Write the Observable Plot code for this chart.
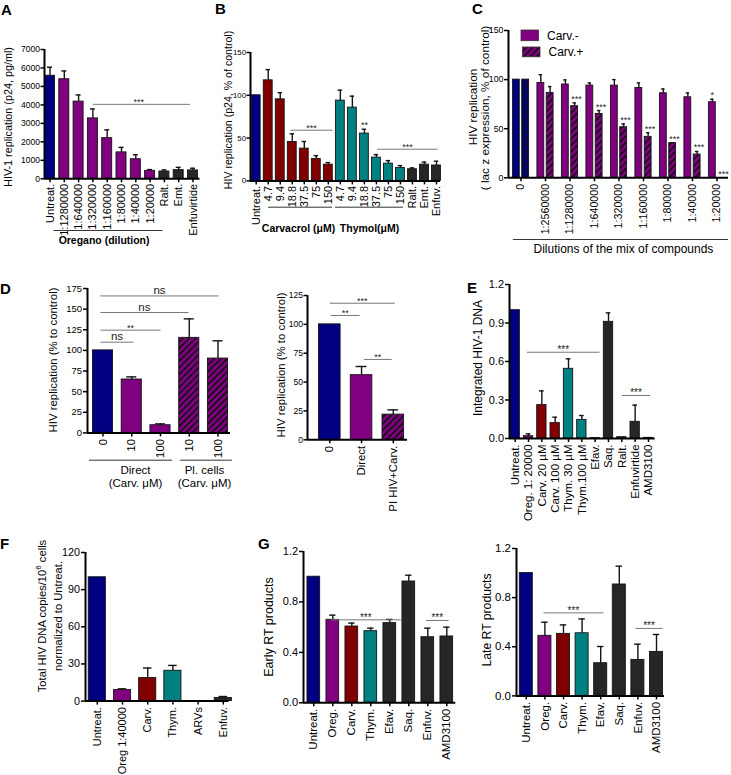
<!DOCTYPE html>
<html>
<head>
<meta charset="utf-8">
<script src="https://cdn.jsdelivr.net/npm/d3@7"></script>
<script src="https://cdn.jsdelivr.net/npm/@observablehq/plot@0.6"></script>
<style>
  body { margin: 0; background: #fff; }
  #fig { position: relative; width: 731px; height: 775px; overflow: hidden; background: #fff;
         font-family: "Liberation Sans", Arial, sans-serif; }
</style>
</head>
<body>
<div id="fig"></div>
<script>
// ---------------- DATA ----------------
// Panel A: oregano dilutions, p24 pg/ml
const aLabels = ["Untreat.","1:1280000","1:640000","1:320000","1:160000","1:80000","1:40000","1:20000","Ralt.","Emt.","Enfuvirtide"];
const aGroups = ["untreated","oregano","oregano","oregano","oregano","oregano","oregano","oregano","arv","arv","arv"];
const aValues = [5580,5390,4180,3270,2200,1430,1060,430,395,470,455];
const aErrors = [6040,5840,4540,3780,2650,1700,1300,500,480,620,570];
const aSig = [{a: 2.99, b: 9.79, y: 4030, label: "***", tx: 6.2}];

// Panel B: carvacrol / thymol (µM), % of control
const bLabels = ["Untreat.","4.7","9.4","18.8","37.5","75","150","4.7","9.4","18.8","37.5","75","150","Ralt.","Emt.","Enfuv."];
const bGroups = ["untreated","carvacrol","carvacrol","carvacrol","carvacrol","carvacrol","carvacrol","thymol","thymol","thymol","thymol","thymol","thymol","arv","arv","arv"];
const bValues = [100,117.5,95.3,45.5,37.7,25.7,19,93.8,85.6,55.3,27.2,20.2,15.2,13.6,19,18];
const bErrors = [null,130,103,55,46,29.5,21.4,106,99,60.3,30.7,23.7,17.9,15.2,22,23];
const bSig = [{a: 2.85, b: 6.35, y: 59.2, label: "***"}, {a: 10.07, b: 15.1, y: 37, label: "***"}];
const bBarSig = ["","","","","","","","","","**","","","","","",""];

// Panel C: dilutions of the mix of compounds, Carv.- / Carv.+
const cLabels = ["0","1:2560000","1:1280000","1:640000","1:320000","1:160000","1:80000","1:40000","1:20000"];
const cMinus = [100,96.6,95,93.9,93.9,91.5,86.1,82,77];
const cMinusErr = [null,105,99.7,96.6,100,96.6,90.5,86.4,80];
const cPlus = [100,86.4,72.9,65,51.5,41.7,35.3,23.7,0];
const cPlusErr = [null,92.9,76.3,68.5,54.9,45.8,35.6,26.8,null];
const cMinusSig = ["","","","","","","","","*"];
const cPlusSig = ["","","***","***","***","***","***","***","***"];

// Panel D (left): direct vs pre-infected cells
const dLabels = ["0","10","100","10","100"];
const dGroups = ["untreated","direct","direct","preinf","preinf"];
const dValues = [100,64.7,9.3,115.2,90.1];
const dErrors = [null,67.9,10.9,138.2,111.6];
const dSig = [{a:-0.09,b:1.06,y:109.9,label:"ns"},{a:-0.09,b:2.0,y:124.5,label:"**"},
              {a:-0.09,b:2.97,y:145.9,label:"ns"},{a:-0.09,b:4.02,y:166,label:"ns"}];

// Panel D (right)
const d2Labels = ["0","Direct","PI HIV+Carv."];
const d2Groups = ["untreated","direct","preinf"];
const d2Values = [100,56,21.8];
const d2Errors = [null,63.5,25.9];
const d2Sig = [{a:0,b:2.05,y:118.3,label:"***"},{a:0.03,b:0.94,y:107.7,label:"**"},{a:1.07,b:1.95,y:69.6,label:"**"}];

// Panel E: integrated HIV-1 DNA
const eLabels = ["Untreat.","Oreg. 1: 20000","Carv. 20 µM","Carv. 100 µM","Thym. 30 µM","Thym.100 µM","Efav.","Saq.","Ralt.","Enfuvirtide","AMD3100"];
const eGroups = ["untreated","oregano","carvacrol","carvacrol","thymol","thymol","arv","arv","arv","arv","arv"];
const eValues = [1.0,0.018,0.26,0.12,0.543,0.145,0.003,0.909,0.01,0.13,0.005];
const eErrors = [null,0.036,0.371,0.166,0.621,0.179,null,0.979,null,0.26,null];
const eSig = [{a:0.88,b:6.33,y:0.672,label:"***"},{a:8.0,b:10.13,y:0.335,label:"***"}];

// Panel F: total HIV DNA
const fLabels = ["Untreat.","Oreg 1:40000","Carv.","Thym.","ARVs","Enfuv."];
const fGroups = ["untreated","oregano","carvacrol","thymol","arv","arv"];
const fValues = [100,8.9,18.6,24.5,0,2.5];
const fErrors = [null,9.9,26.7,28.8,null,3.7];

// Panel G: early / late RT products
const gLabels = ["Untreat.","Oreg.","Carv.","Thym.","Efav.","Saq.","Enfuv.","AMD3100"];
const gGroups = ["untreated","oregano","carvacrol","thymol","arv","arv","arv","arv"];
const gEarly = [1.0,0.658,0.605,0.568,0.632,0.962,0.52,0.526];
const gEarlyErr = [null,0.695,0.632,0.592,0.661,1.012,0.592,0.6];
const gEarlySig = [{a:0.89,b:4.58,y:0.658,label:"***"},{a:5.9,b:7.1,y:0.653,label:"***"}];
const gLate = [1.0,0.489,0.505,0.51,0.266,0.907,0.293,0.358];
const gLateErr = [null,0.6,0.578,0.627,0.402,1.056,0.421,0.5];
const gLateSig = [{a:0.92,b:4.15,y:0.676,label:"***"},{a:5.87,b:7.32,y:0.549,label:"***"}];

// ---------------- STYLE ----------------
const FONT = "Liberation Sans, Arial, Helvetica, sans-serif";
const fills = {
  untreated: "#000080", oregano: "#800080", direct: "#800080", carvacrol: "#800000",
  thymol: "#008080", arv: "#262626", preinf: "url(#hatchPurple)", preinfNavy: "url(#hatchNavy)"
};
const fig = document.getElementById("fig");

// overlay: patterns, panel letters, axis titles, legend
fig.innerHTML = `
<svg width="731" height="775" style="position:absolute;left:0;top:0" font-family="${FONT}">
  <defs>
    <pattern id="hatchPurple" patternUnits="userSpaceOnUse" width="4.6" height="4.6" patternTransform="rotate(45)">
      <rect width="4.6" height="4.6" fill="#800080"/><rect width="1.7" height="4.6" fill="#111"/>
    </pattern>
    <pattern id="hatchNavy" patternUnits="userSpaceOnUse" width="4.6" height="4.6" patternTransform="rotate(45)">
      <rect width="4.6" height="4.6" fill="#000080"/><rect width="1.7" height="4.6" fill="#111"/>
    </pattern>
  </defs>
  <g font-weight="bold" font-size="15" fill="#000">
    <text x="1" y="15">A</text>
    <text x="215" y="14">B</text>
    <text x="472" y="14">C</text>
    <text x="0" y="294">D</text>
    <text x="467" y="293">E</text>
    <text x="0" y="549">F</text>
    <text x="258" y="549">G</text>
  </g>
  <g text-anchor="middle" dominant-baseline="central" fill="#000">
    <text transform="translate(8,117) rotate(-90)" font-size="10.8">HIV-1 replication (p24, pg/ml)</text>
    <text transform="translate(227.5,110) rotate(-90)" font-size="10.6">HIV replication (p24, % of control)</text>
    <text transform="translate(472.5,107) rotate(-90)" font-size="11.8">HIV replication</text>
    <text transform="translate(484.5,108) rotate(-90)" font-size="11.8">( lac z expression, % of control)</text>
    <text transform="translate(53,360) rotate(-90)" font-size="11.4">HIV replication (% to control)</text>
    <text transform="translate(281,365) rotate(-90)" font-size="11.4">HIV replication (% to control)</text>
    <text transform="translate(477.5,358) rotate(-90)" font-size="12">Integrated HIV-1 DNA</text>
    <text transform="translate(41.5,616) rotate(-90)" font-size="11.2">Total HIV DNA copies/10<tspan font-size="8" dy="-4">6</tspan><tspan dy="4"> cells</tspan></text>
    <text transform="translate(57.5,616) rotate(-90)" font-size="11.2">normalized to Untreat.</text>
    <text transform="translate(269,627) rotate(-90)" font-size="12.5">Early RT products</text>
    <text transform="translate(487,620) rotate(-90)" font-size="12.2">Late RT products</text>
  </g>
  <g font-size="12" dominant-baseline="central">
    <rect x="521" y="30" width="17.5" height="10.7" fill="#800080" stroke="#333" stroke-width="0.8"/>
    <text x="547" y="35.5">Carv.-</text>
    <rect x="522.5" y="47" width="17.5" height="9.8" fill="url(#hatchPurple)" stroke="#333" stroke-width="0.8"/>
    <text x="548.5" y="52">Carv.+</text>
  </g>
</svg>`;

function simpleBars(values, errors, groups, hw) {
  return values.map((v, i) => ({x1: i - hw, x2: i + hw, v, e: errors[i], fill: fills[groups[i]]}));
}

function buildPanel(p) {
  const ml = 50, mr = 20, mt = 20, mb = 100;
  const W = p.x1 - p.x0 + ml + mr;
  const H = p.yBottom - p.yTop + mt + mb;
  const lo = (p.x0 - p.c0) / p.step, hi = (p.x1 - p.c0) / p.step;
  const ink = "#141414";
  const errs = p.bars.filter(b => b.e != null);
  const sig = p.sig || [];
  const starSig = sig.filter(d => d.label.includes("*"));
  const nsSig = sig.filter(d => !d.label.includes("*"));
  const marks = [
    Plot.rect(p.bars, {x1: "x1", x2: "x2", y1: () => 0, y2: "v", fill: "fill", stroke: ink, strokeWidth: 0.9}),
    Plot.ruleX(errs, {x: d => (d.x1 + d.x2) / 2, y1: "v", y2: "e", stroke: ink, strokeWidth: 1.4}),
    Plot.ruleY(errs, {x1: d => (3 * d.x1 + d.x2) / 4, x2: d => (d.x1 + 3 * d.x2) / 4, y: "e", stroke: ink, strokeWidth: 1.4}),
    Plot.ruleY([0], {stroke: "#000", strokeWidth: 2}),
    Plot.ruleX([lo], {y1: () => 0, y2: () => p.ymax, stroke: "#000", strokeWidth: 2}),
    Plot.axisY({ticks: p.yTicks, tickFormat: p.fmt || (d => String(d)), tickSize: p.tickY ?? 4, tickPadding: p.padY ?? 1.5,
                fontSize: p.fsY, strokeWidth: 1.5, label: null}),
    Plot.axisX({ticks: d3.range(p.labels.length), tickFormat: i => p.labels[i], tickRotate: -90,
                tickSize: 4, tickPadding: p.tickPad ?? 2, fontSize: p.fsX, strokeWidth: 1.5, label: null}),
    Plot.link(sig, {x1: "a", x2: "b", y1: "y", y2: "y", stroke: "#777", strokeWidth: 1}),
    Plot.text(starSig, {x: d => d.tx ?? (d.a + d.b) / 2, y: "y", text: "label", fontSize: p.starFs || 9,
                        lineAnchor: "bottom", dy: 1, fill: "#222"}),
    Plot.text(nsSig, {x: d => d.tx ?? (d.a + d.b) / 2, y: "y", text: "label", fontSize: 11.5,
                      lineAnchor: "bottom", dy: -2, fill: "#222"}),
    Plot.text(p.barStars || [], {x: "x", y: "y", text: "label", fontSize: 9, lineAnchor: "bottom", dy: -1, fill: "#222"}),
    Plot.ruleY(p.under || [], {x1: "a", x2: "b", y: () => 0, dy: p.underDy || 0, stroke: "#333", strokeWidth: 1}),
    Plot.text(p.groupLabels || [], {x: "x", y: () => 0, text: "label", dy: p.labelDy || 0, fontSize: p.labelFs || 11,
                                    fontWeight: p.labelWeight || "normal", lineAnchor: p.labelAnchor || "middle",
                                    lineHeight: 1.2, fill: "#000"})
  ];
  const svg = Plot.plot({
    width: W, height: H, marginLeft: ml, marginRight: mr, marginTop: mt, marginBottom: mb,
    x: {type: "linear", domain: [lo, hi]},
    y: {type: "linear", domain: [0, p.ymax]},
    color: {type: "identity"},
    style: {fontFamily: FONT, background: "transparent", overflow: "visible", color: "#000"},
    marks
  });
  svg.style.position = "absolute";
  svg.style.left = (p.x0 - ml) + "px";
  svg.style.top = (p.yTop - mt) + "px";
  svg.style.maxWidth = "none";
  fig.appendChild(svg);
}

// ---- Panel A
buildPanel({
  x0: 43.5, x1: 199, yTop: 49, yBottom: 178.3, c0: 49, step: 14.3, ymax: 7000,
  yTicks: d3.range(0, 7001, 1000), fsY: 8.6, tickY: 3.5, padY: 1, fsX: 11, tickPad: 1,
  labels: aLabels, bars: simpleBars(aValues, aErrors, aGroups, 0.35), sig: aSig,
  under: [{a: 0.28, b: 7.9}], underDy: 51.7,
  groupLabels: [{x: 3.78, label: "Oregano (dilution)"}], labelDy: 60.7, labelFs: 10.5, labelWeight: "bold"
});

// ---- Panel B
buildPanel({
  x0: 250, x1: 440, yTop: 52.3, yBottom: 180.7, c0: 255.7, step: 12.02, ymax: 150,
  yTicks: [0, 50, 100, 150], fsY: 7.8, tickY: 3.5, padY: 1, fsX: 11, tickPad: 1,
  labels: bLabels, bars: simpleBars(bValues, bErrors, bGroups, 0.37), sig: bSig,
  barStars: bBarSig.map((t, i) => ({x: i, y: bErrors[i] ?? bValues[i], label: t})).filter(d => d.label),
  under: [{a: 1.03, b: 6.35}, {a: 6.6, b: 12.25}], underDy: 26.3,
  groupLabels: [{x: 3.52, label: "Carvacrol (μM)"}, {x: 9.43, label: "Thymol(μM)"}],
  labelDy: 47, labelFs: 10.5, labelWeight: "bold"
});

// ---- Panel C
{
  const bars = [];
  const stars = [];
  cLabels.forEach((lab, g) => {
    bars.push({x1: g - 0.33, x2: g - 0.05, v: cMinus[g], e: cMinusErr[g], fill: g === 0 ? fills.untreated : fills.oregano});
    bars.push({x1: g + 0.05, x2: g + 0.33, v: cPlus[g], e: cPlusErr[g], fill: g === 0 ? fills.preinfNavy : fills.preinf});
    if (cMinusSig[g]) stars.push({x: g - 0.19, y: cMinusErr[g] ?? cMinus[g], label: cMinusSig[g]});
    if (cPlusSig[g]) stars.push({x: g + 0.27, y: cPlusErr[g] ?? cPlus[g], label: cPlusSig[g]});
  });
  buildPanel({
    x0: 508, x1: 728, yTop: 30, yBottom: 177.3, c0: 520.5, step: 24.5, ymax: 150,
    yTicks: [0, 50, 100, 150], fsY: 8.8, tickY: 4, padY: 1, fsX: 10.7,
    labels: cLabels, bars, barStars: stars,
    under: [{a: -0.31, b: 8.47}], underDy: 61.7,
    groupLabels: [{x: 4.18, label: "Dilutions of the mix of compounds"}], labelDy: 70.7, labelFs: 12
  });
}

// ---- Panel D left
buildPanel({
  x0: 87, x1: 230, yTop: 288.3, yBottom: 432.7, c0: 102.5, step: 28.75, ymax: 175,
  yTicks: d3.range(0, 176, 25), fsY: 9.5, tickY: 4, padY: 1.5, fsX: 11.4,
  labels: dLabels, bars: simpleBars(dValues, dErrors, dGroups, 0.35), sig: dSig,
  under: [{a: -0.47, b: 2.42}, {a: 2.7, b: 4.5}], underDy: 27.3,
  groupLabels: [{x: 1.13, label: "Direct\n(Carv. μM)"}, {x: 3.53, label: "Pl. cells\n(Carv. μM)"}],
  labelDy: 31, labelFs: 11.5, labelAnchor: "top"
});

// ---- Panel D right
buildPanel({
  x0: 306.7, x1: 406.7, yTop: 295, yBottom: 439.3, c0: 329, step: 31.75, ymax: 125,
  yTicks: d3.range(0, 126, 25), fsY: 8.6, tickY: 3.5, padY: 1, fsX: 11.4,
  labels: d2Labels, bars: simpleBars(d2Values, d2Errors, d2Groups, 0.34), sig: d2Sig
});

// ---- Panel E
buildPanel({
  x0: 509.3, x1: 655, yTop: 284, yBottom: 438, c0: 515, step: 13.33, ymax: 1.2,
  yTicks: [0, 0.3, 0.6, 0.9, 1.2], fmt: d3.format(".1f"), fsY: 11, tickY: 4, padY: 1.5, fsX: 11.5, starFs: 10,
  labels: eLabels, bars: simpleBars(eValues, eErrors, eGroups, 0.35), sig: eSig
});

// ---- Panel F
buildPanel({
  x0: 84.5, x1: 228, yTop: 551.7, yBottom: 700.3, c0: 96.3, step: 25.2, ymax: 120,
  yTicks: [0, 30, 60, 90, 120], fsY: 10.8, tickY: 4, padY: 1.5, fsX: 11,
  labels: fLabels, bars: simpleBars(fValues, fErrors, fGroups, 0.34)
});

// ---- Panel G left
buildPanel({
  x0: 302.7, x1: 455, yTop: 551, yBottom: 702.3, c0: 313, step: 19, ymax: 1.2,
  yTicks: [0, 0.4, 0.8, 1.2], fmt: d3.format(".1f"), fsY: 11, tickY: 4, padY: 1.5, fsX: 11.5, starFs: 10,
  labels: gLabels, bars: simpleBars(gEarly, gEarlyErr, gGroups, 0.334), sig: gEarlySig
});

// ---- Panel G right
buildPanel({
  x0: 516, x1: 664, yTop: 548.3, yBottom: 695.7, c0: 525.8, step: 18.6, ymax: 1.2,
  yTicks: [0, 0.4, 0.8, 1.2], fmt: d3.format(".1f"), fsY: 11.5, tickY: 4, padY: 1.5, fsX: 11.5, starFs: 10,
  labels: gLabels, bars: simpleBars(gLate, gLateErr, gGroups, 0.35), sig: gLateSig
});
</script>
</body>
</html>
